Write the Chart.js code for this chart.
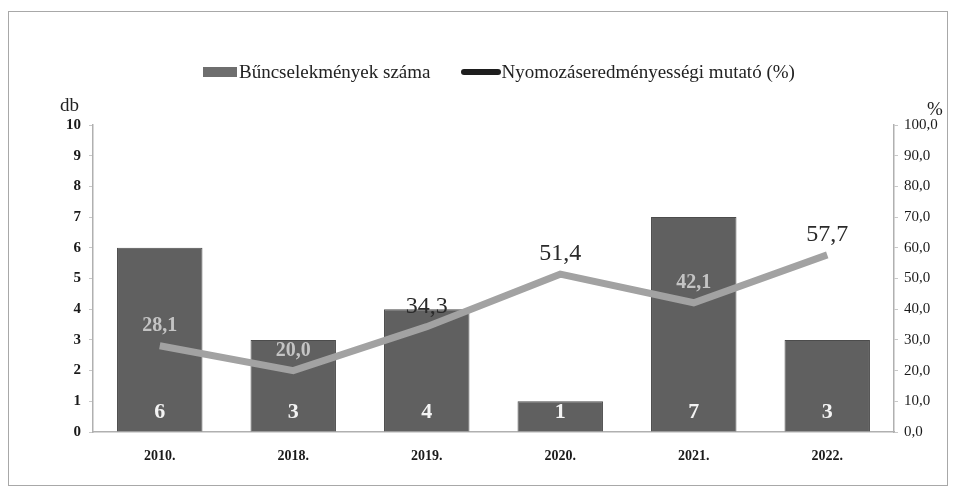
<!DOCTYPE html>
<html>
<head>
<meta charset="utf-8">
<script src="https://cdn.jsdelivr.net/npm/chart.js@4.4.1/dist/chart.umd.min.js"></script>
<style>
  html, body { margin: 0; padding: 0; background: #fff; }
  #wrap { position: relative; width: 953px; height: 492px; font-family: "Liberation Serif", serif; }
  #frame { position: absolute; left: 8px; top: 11px; width: 940px; height: 475px; border: 1px solid #a8a8a8; box-sizing: border-box; }
  #legend { position: absolute; left: 203px; top: 59px; font-size: 19px; color: #222; white-space: nowrap; }
  #legend span { display: inline-block; vertical-align: middle; }
  .box { width: 34px; height: 10px; background: #6e6e6e; margin-right: 2px; }
  .ln { width: 40px; height: 6px; background: #1e1e1e; border-radius: 3px; margin-left: 30px; margin-right: 1px; }
  .ttl { position: absolute; font-size: 19px; color: #222; }
</style>
</head>
<body>
<div id="wrap">
  <div id="frame"></div>
  <canvas id="chart" width="953" height="492"></canvas>
  <div id="legend"><span class="box"></span><span>Bűncselekmények száma</span><span class="ln"></span><span>Nyomozáseredményességi mutató (%)</span></div>
  <div class="ttl" style="left:60px;top:94px;">db</div>
  <div class="ttl" style="left:927px;top:98px;">%</div>
</div>
<script>
const years = ['2010.', '2018.', '2019.', '2020.', '2021.', '2022.'];
const crimes = [6, 3, 4, 1, 7, 3];
const rate = [28.1, 20.0, 34.3, 51.4, 42.1, 57.7];
// label colour: light where it sits on a dark bar
const rateLabelColors = ['#c4c4c4', '#c4c4c4', '#2a2a2a', '#2a2a2a', '#c4c4c4', '#2a2a2a'];

const fmt = v => v.toFixed(1).replace('.', ',');

const labelPlugin = {
    id: 'labels',
    afterDatasetsDraw(chart) {
        const ctx = chart.ctx;
        ctx.save();
        ctx.textAlign = 'center';
        ctx.textBaseline = 'middle';
        // bar values near the base
        const bars = chart.getDatasetMeta(0).data;
        ctx.font = 'bold 22px "Liberation Serif"';
        ctx.fillStyle = '#f4f4f4';
        bars.forEach((b, i) => {
            ctx.fillText(String(crimes[i]), b.x, b.base - 19);
        });
        // line values above the points
        const pts = chart.getDatasetMeta(1).data;
        pts.forEach((p, i) => {
            const onBar = rateLabelColors[i] !== '#2a2a2a';
            ctx.font = (onBar ? 'bold 20px' : '24px') + ' "Liberation Serif"';
            ctx.fillStyle = rateLabelColors[i];
            ctx.fillText(fmt(rate[i]), p.x, p.y - 20);
        });
        ctx.restore();
    }
};

new Chart(document.getElementById('chart'), {
    data: {
        labels: years,
        datasets: [{
            type: 'bar',
            label: 'Bűncselekmények száma',
            data: crimes,
            backgroundColor: '#606060',
            borderColor: '#4c4c4c',
            borderWidth: 1,
            categoryPercentage: 0.64,
            barPercentage: 1,
            yAxisID: 'y',
            order: 2
        }, {
            type: 'line',
            label: 'Nyomozáseredményességi mutató (%)',
            data: rate,
            borderColor: '#a2a2a2',
            borderWidth: 7,
            pointRadius: 0,
            tension: 0,
            yAxisID: 'y1',
            order: 1
        }]
    },
    options: {
        responsive: false,
        animation: false,
        layout: { padding: { top: 125, left: 0, right: 0, bottom: 0 } },
        plugins: {
            legend: { display: false },
            tooltip: { enabled: false }
        },
        scales: {
            x: {
                grid: { display: false },
                border: { color: '#b0b0b0', width: 1.5 },
                ticks: {
                    color: '#1a1a1a',
                    padding: 8,
                    font: { family: 'Liberation Serif', size: 14, weight: 'bold' }
                },
                afterFit(s) { s.height = 60; }
            },
            y: {
                position: 'left',
                min: 0, max: 10,
                ticks: {
                    stepSize: 1,
                    color: '#1a1a1a',
                    padding: 8,
                    font: { family: 'Liberation Serif', size: 15, weight: 'bold' }
                },
                grid: { drawOnChartArea: false, tickLength: 4, color: '#c8c8c8' },
                border: { color: '#b0b0b0', width: 1.5 },
                afterFit(s) { s.width = 93; }
            },
            y1: {
                position: 'right',
                min: 0, max: 100,
                ticks: {
                    stepSize: 10,
                    color: '#1a1a1a',
                    padding: 6,
                    callback: v => fmt(v),
                    font: { family: 'Liberation Serif', size: 15 }
                },
                grid: { drawOnChartArea: false, tickLength: 4, color: '#c8c8c8' },
                border: { color: '#b0b0b0', width: 1.5 },
                afterFit(s) { s.width = 59; }
            }
        }
    },
    plugins: [labelPlugin]
});
</script>
</body>
</html>
